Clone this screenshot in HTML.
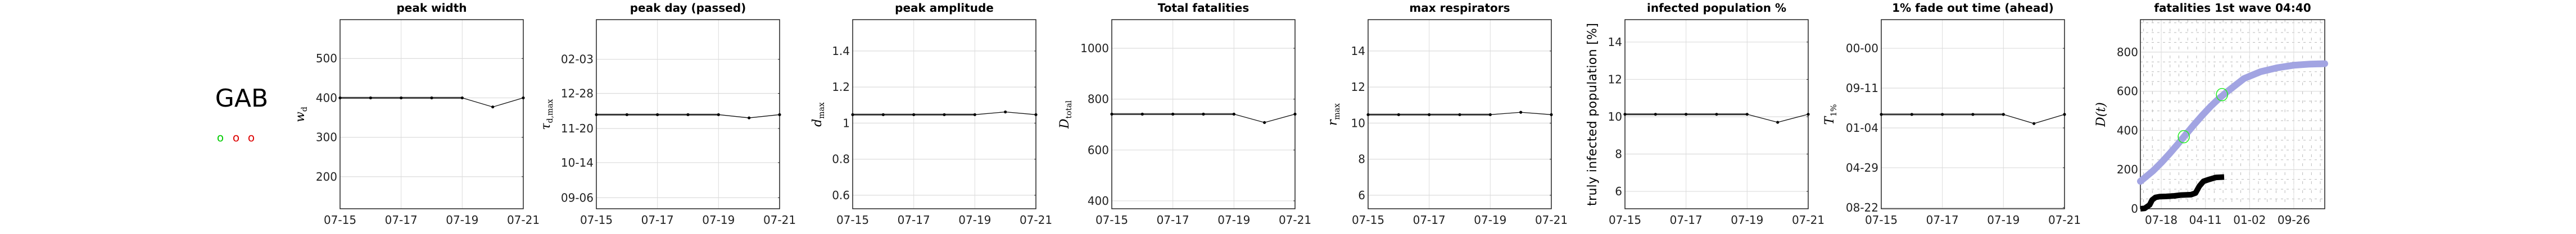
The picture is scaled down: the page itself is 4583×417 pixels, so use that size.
<!DOCTYPE html>
<html><head><meta charset="utf-8"><style>
html,body{margin:0;padding:0;background:#fff;width:4583px;height:417px;overflow:hidden}
svg{display:block;font-family:"DejaVu Sans","Liberation Sans",sans-serif}
</style></head><body>
<svg id="chart" width="4583" height="417" viewBox="0 0 4583 417" xmlns="http://www.w3.org/2000/svg">
<text x="430" y="190" font-size="44" text-anchor="middle" font-family="DejaVu Sans, sans-serif">GAB</text>
<text x="392" y="252" font-size="20" fill="#00cc00" text-anchor="middle">o</text>
<text x="420" y="252" font-size="20" fill="#dd0000" text-anchor="middle">o</text>
<text x="447" y="252" font-size="20" fill="#dd0000" text-anchor="middle">o</text>
</svg>
<script>
// ---- shared x data for trend panels ----
const xTickLabels = ["07-15","07-17","07-19","07-21"];
const xTickDays = [0,2,4,6];
const days = [0,1,2,3,4,5,6];
// ---- panel series ----
const peakWidth = [400,400,400,400,400,377,400];
const peakDay = [90,90,90,90,90,86.5,90];
const peakAmp = [1.047,1.047,1.047,1.047,1.047,1.062,1.047];
const totalFat = [741,741,741,741,741,708,741];
const maxResp = [10.47,10.47,10.47,10.47,10.47,10.6,10.47];
const infPop = [10.13,10.13,10.13,10.13,10.13,9.7,10.13];
const fadeOut = [2.34,2.34,2.34,2.34,2.34,2.11,2.34];
// ---- tick values/labels ----
const peakWidthTicks = [200,300,400,500];
const peakDayTicks = [0,38,75,113,150];
const peakDayLabels = ["09-06","10-14","11-20","12-28","02-03"];
const ampTicks = [0.6,0.8,1,1.2,1.4];
const ampLabels = ["0.6","0.8","1","1.2","1.4"];
const fatTicks = [400,600,800,1000];
const respTicks = [6,8,10,12,14];
const infTicks = [6,8,10,12,14];
const fadeTicks = [0,1,2,3,4];
const fadeLabels = ["08-22","04-29","01-04","09-11","00-00"];
// ---- wave panel ----
const waveXTickDays = [0,267,534,801];
const waveXTickLabels = ["07-18","04-11","01-02","09-26"];
const waveYTicks = [0,200,400,600,800];
const fitDays = [-126,-50,0,50,100,150,200,250,300,350,400,500,600,700,800,900,988];
const fitVals = [140,193,235,281,330,381,431,479,524,564,599,665,700,720,733,739,741];
const obsDays = [-126,-100,-70,-55,-35,-10,30,80,120,180,207,230,255,290,330,380];
const obsVals = [0,2,20,45,58,62,63,66,70,72,80,115,140,150,160,162];
const markDays = [136,367];
const markVals = [368,583];

const NS="http://www.w3.org/2000/svg";
const svg=document.getElementById('chart');
const TOP=35,BOT=372,W=326;
function mk(tag,attrs,parent){const e=document.createElementNS(NS,tag);for(const k in attrs)e.setAttribute(k,attrs[k]);(parent||svg).appendChild(e);return e;}

const panels=[
 {left:605,title:"peak width",ylab:"w_d",yl:-64,vals:peakWidth,ymin:118.6,ymax:598.6,ticks:peakWidthTicks,labels:null},
 {left:1061,title:"peak day (passed)",ylab:"τ_d,max",yl:-83,vals:peakDay,ymin:-12,ymax:193,ticks:peakDayTicks,labels:peakDayLabels},
 {left:1517,title:"peak amplitude",ylab:"d_max",yl:-56,vals:peakAmp,ymin:0.525,ymax:1.574,ticks:ampTicks,labels:ampLabels},
 {left:1978,title:"Total fatalities",ylab:"D_total",yl:-77,vals:totalFat,ymin:369,ymax:1112.5,ticks:fatTicks,labels:null},
 {left:2434,title:"max respirators",ylab:"r_max",yl:-56,vals:maxResp,ymin:5.25,ymax:15.74,ticks:respTicks,labels:null},
 {left:2891,title:"infected population %",ylab:"truly infected population [%]",yl:-51,big:true,vals:infPop,ymin:5.07,ymax:15.2,ticks:infTicks,labels:null},
 {left:3347,title:"1% fade out time (ahead)",ylab:"T_1%",yl:-85,vals:fadeOut,ymin:-0.03,ymax:4.72,ticks:fadeTicks,labels:fadeLabels}
];

function yLabel(g,x,txt,big){
  const t=mk('text',{x:x,y:204,'font-size':big?22:22,'text-anchor':'middle','font-style':big?'normal':'italic','font-family':big?'DejaVu Sans, sans-serif':'DejaVu Serif, Liberation Serif, serif',transform:'rotate(-90 '+x+' 204)'},g);
  
  
  if(big){t.setAttribute('textLength','326');t.setAttribute('lengthAdjust','spacing');t.textContent=txt;return;}
  const parts=txt.split('_');
  t.appendChild(document.createTextNode(parts[0]));
  if(parts[1]){const s=mk('tspan',{dy:5,'font-size':14,'font-style':'normal'},t);s.textContent=parts[1];}
}

panels.forEach((p,pi)=>{
  const g=mk('g',{});
  
  
  const xs=d=>p.left+d/6*W;
  const ys=v=>BOT-(v-p.ymin)/(p.ymax-p.ymin)*(BOT-TOP);
  xTickDays.forEach((d,i)=>{
    const l=mk('line',{x1:xs(d),x2:xs(d),y1:TOP,y2:BOT,stroke:'#dcdcdc','stroke-width':1},g);
    
    
    const t=mk('text',{x:xs(d),y:399,'font-size':20,'text-anchor':'middle',fill:'#222'},g);
    
    
    t.textContent=xTickLabels[i];
  });
  p.ticks.forEach((v,i)=>{
    const y=ys(v);
    const l=mk('line',{x1:p.left,x2:p.left+W,y1:y,y2:y,stroke:'#dcdcdc','stroke-width':1.2},g);
    
    
    mk('line',{x1:p.left+W-3,x2:p.left+W,y1:y,y2:y,stroke:'#222'},g);
    const t=mk('text',{x:p.left-5,y:y+7,'font-size':20,'text-anchor':'end',fill:'#222'},g);
    
    
    t.textContent=p.labels?p.labels[i]:String(v);
  });
  const fr=mk('rect',{x:p.left,y:TOP,width:W,height:BOT-TOP,fill:'none',stroke:'#222','stroke-width':1.5},g);
  
  
  const tt=mk('text',{x:p.left+W/2,y:21,'font-size':20,'font-weight':'bold','text-anchor':'middle'},g);
  
  
  tt.textContent=p.title;
  yLabel(g,p.left+p.yl,p.ylab,p.big);
  const thick=days.slice(0,5).map((d,i)=>xs(d)+','+ys(p.vals[i])).join(' ');
  const tl=mk('polyline',{points:thick,fill:'none',stroke:'#777','stroke-width':3.5},g);
  
  
  const all=days.map((d,i)=>xs(d)+','+ys(p.vals[i])).join(' ');
  const ln=mk('polyline',{points:all,fill:'none',stroke:'#111','stroke-width':1.3},g);
  
  
  days.forEach((d,i)=>{
    const c=mk('circle',{cx:xs(d),cy:ys(p.vals[i]),r:2.6,fill:'#000'},g);
    
    
  });
});

// ---- wave panel ----
(function(){
  const L=3808,WW=328,dmin=-126,dmax=988,vmin=0,vmax=966;
  const xs=d=>L+(d-dmin)/(dmax-dmin)*WW;
  const ys=v=>BOT-(v-vmin)/(vmax-vmin)*(BOT-TOP);
  const g=mk('g',{});
  
  
  for(let v=50;v<vmax;v+=50){ if(v%200===0)continue;
    mk('line',{x1:L,x2:L+WW,y1:ys(v),y2:ys(v),stroke:'#bbb','stroke-width':1,'stroke-dasharray':'4 6'},g);}
  for(let d=-107;d<dmax;d+=53.4){
    mk('line',{x1:xs(d),x2:xs(d),y1:TOP,y2:BOT,stroke:'#bbb','stroke-width':1,'stroke-dasharray':'5 11'},g);}
  waveXTickDays.forEach((d,i)=>{
    mk('line',{x1:xs(d),x2:xs(d),y1:TOP,y2:BOT,stroke:'#dcdcdc','stroke-width':1},g);
    const t=mk('text',{x:xs(d),y:399,'font-size':20,'text-anchor':'middle',fill:'#222'},g);
    
    
    t.textContent=waveXTickLabels[i];
  });
  waveYTicks.forEach(v=>{
    if(v>0)mk('line',{x1:L,x2:L+WW,y1:ys(v),y2:ys(v),stroke:'#dcdcdc','stroke-width':1.2},g);
    const t=mk('text',{x:L-4,y:ys(v)+7,'font-size':20,'text-anchor':'end',fill:'#222'},g);
    
    
    t.textContent=String(v);
  });
  const fr=mk('rect',{x:L,y:TOP,width:WW,height:BOT-TOP,fill:'none',stroke:'#222','stroke-width':1.5},g);
  
  
  const tt=mk('text',{x:L+WW/2,y:21,'font-size':20,'font-weight':'bold','text-anchor':'middle'},g);
  
  
  tt.textContent="fatalities 1st wave 04:40";
  const yl=mk('text',{x:3745,y:204,'font-size':22,'font-style':'italic','text-anchor':'middle','font-family':'DejaVu Serif, serif',transform:'rotate(-90 3745 204)'},g);
  
  
  yl.textContent="D(t)";
  const fit=mk('polyline',{points:fitDays.map((d,i)=>xs(d)+','+ys(fitVals[i])).join(' '),fill:'none',stroke:'#a2a4e2','stroke-width':12,'stroke-linejoin':'round','stroke-linecap':'round'},g);
  
  
  const obs=mk('polyline',{points:obsDays.map((d,i)=>xs(d)+','+ys(obsVals[i])).join(' '),fill:'none',stroke:'#000','stroke-width':10,'stroke-linejoin':'round'},g);
  
  
  markDays.forEach((d,i)=>{
    const c=mk('ellipse',{cx:xs(d),cy:ys(markVals[i]),rx:10,ry:11,fill:'none',stroke:'#22ee22','stroke-width':1.5},g);
    
    
  });
})();
</script>
</body></html>
